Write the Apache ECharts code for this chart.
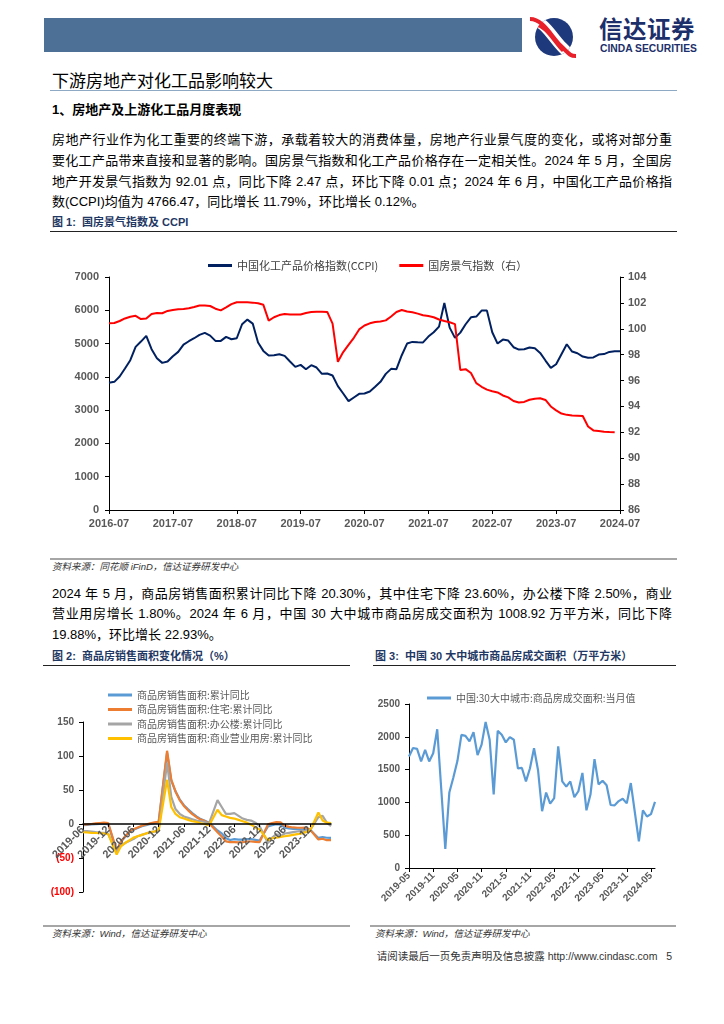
<!DOCTYPE html>
<html><head><meta charset="utf-8">
<script src="https://cdn.jsdelivr.net/npm/echarts@6.0.0/dist/echarts.min.js"></script>
<style>
body{margin:0;background:#fff;}
#page{position:relative;width:724px;height:1024px;overflow:hidden;font-family:'Liberation Sans','Noto Sans CJK SC',sans-serif;color:#000;}
.a{position:absolute;white-space:nowrap;}
.p{position:absolute;left:52px;width:620px;height:21px;line-height:21px;font-size:13px;color:#000;}
.j{text-align:justify;text-align-last:justify;}
.fig{position:absolute;font-size:11px;font-weight:bold;color:#1F3864;white-space:nowrap;line-height:14px;}
.src{position:absolute;font-size:9.5px;font-style:italic;color:#333;white-space:nowrap;line-height:12px;}
.hl{position:absolute;height:0;}
#chart{position:absolute;left:0;top:0;width:724px;height:1024px;}
</style></head>
<body><div id="page">
<div class="a" style="left:44px;top:18px;width:478px;height:34px;background:#4D7097;"></div>
<svg class="a" style="left:528px;top:11px" width="52" height="50" viewBox="0 0 52 50">
 <defs><clipPath id="cc"><circle cx="26" cy="26" r="19"/></clipPath></defs>
 <circle cx="26" cy="26" r="19" fill="#1F3A7C"/>
 <path d="M3,9 C16,9 24,26 34,36 S44,46 48,46" stroke="#fff" stroke-width="11" fill="none" clip-path="url(#cc)"/>
 <path d="M2,8 C15,8 23,25 33,35 S43,45 48,45" stroke="#E8202A" stroke-width="4" fill="none"/>
 <path d="M6,14 C18,14 25,30 35,40" stroke="#E8202A" stroke-width="3" fill="none" clip-path="url(#cc)"/>
</svg>
<div class="a" style="left:599px;top:14px;font-size:23.5px;font-weight:bold;color:#1C2F6B;font-family:'Noto Sans CJK SC';line-height:28px;letter-spacing:0.5px;">信达证券</div>
<div class="a" style="left:600px;top:43px;font-size:10.3px;font-weight:bold;color:#1C2F6B;line-height:11px;">CINDA SECURITIES</div>

<div class="a" style="left:52px;top:69px;font-size:17px;line-height:22px;color:#000;font-family:'Noto Sans CJK SC';">下游房地产对化工品影响较大</div>
<div class="hl" style="left:50px;top:90px;width:627px;border-top:1.5px solid #8DA9C4;"></div>
<div class="a" style="left:52px;top:102px;font-size:13px;font-weight:bold;line-height:16px;">1、房地产及上游化工品月度表现</div>

<div class="p j" style="top:129px;">房地产行业作为化工重要的终端下游，承载着较大的消费体量，房地产行业景气度的变化，或将对部分重</div>
<div class="p j" style="top:150px;">要化工产品带来直接和显著的影响。国房景气指数和化工产品价格存在一定相关性。2024 年 5 月，全国房</div>
<div class="p j" style="top:170.5px;">地产开发景气指数为 92.01 点，同比下降 2.47 点，环比下降 0.01 点；2024 年 6 月，中国化工产品价格指</div>
<div class="p" style="top:191px;">数(CCPI)均值为 4766.47，同比增长 11.79%，环比增长 0.12%。</div>

<div class="fig" style="left:52px;top:215px;">图 1:&nbsp; 国房景气指数及 CCPI</div>
<div class="hl" style="left:50px;top:231px;width:627px;border-top:1.5px solid #222;"></div>
<div class="hl" style="left:50px;top:558px;width:627px;border-top:2px solid #A6A6A6;"></div>
<div class="src" style="left:52px;top:561px;">资料来源：同花顺 iFinD，信达证券研发中心</div>

<div class="p j" style="top:582.5px;">2024 年 5 月，商品房销售面积累计同比下降 20.30%，其中住宅下降 23.60%，办公楼下降 2.50%，商业</div>
<div class="p j" style="top:603px;">营业用房增长 1.80%。2024 年 6 月，中国 30 大中城市商品房成交面积为 1008.92 万平方米，同比下降</div>
<div class="p" style="top:623.5px;">19.88%，环比增长 22.93%。</div>

<div class="fig" style="left:52px;top:649px;">图 2:&nbsp; 商品房销售面积变化情况（%）</div>
<div class="fig" style="left:375px;top:649px;">图 3:&nbsp; 中国 30 大中城市商品房成交面积（万平方米）</div>
<div class="hl" style="left:43px;top:665px;width:307px;border-top:1.5px solid #222;"></div>
<div class="hl" style="left:373px;top:665px;width:303px;border-top:1.5px solid #222;"></div>
<div class="hl" style="left:43px;top:925px;width:307px;border-top:2px solid #A6A6A6;"></div>
<div class="hl" style="left:370px;top:925px;width:306px;border-top:2px solid #A6A6A6;"></div>
<div class="src" style="left:52px;top:928px;">资料来源：Wind，信达证券研发中心</div>
<div class="src" style="left:375px;top:928px;">资料来源：Wind，信达证券研发中心</div>

<div class="a" style="right:52px;top:950px;font-size:10.5px;line-height:12px;color:#333;">请阅读最后一页免责声明及信息披露 http://www.cindasc.com&nbsp;&nbsp; 5</div>

<div id="chart"></div>
</div>
<script>
// ---------- Chart 1: CCPI & 国房景气指数 ----------
function months(y, m, n) { const r = []; for (let k = 0; k < n; k++) { const mm = m + k; const yy = y + Math.floor((mm - 1) / 12); const mo = ((mm - 1) % 12) + 1; r.push(yy + '-' + (mo < 10 ? '0' + mo : mo)); } return r; }
const cat1 = months(2016, 7, 97);
const ccpi = [3820,3850,4010,4250,4500,4900,5060,5230,4830,4560,
 4420,4460,4620,4750,4970,5070,5160,5260,5320,5240,
 5080,5080,5200,5130,5160,5580,5720,5600,5030,4780,
 4640,4650,4680,4630,4460,4300,4360,4230,4350,4280,
 4090,4100,4040,3720,3500,3270,3380,3490,3500,3560,
 3700,3850,4090,4240,4230,4650,5000,5050,5040,5035,
 5210,5340,5510,6220,5480,5170,5330,5580,5790,5810,
 5990,5990,5340,5000,5120,5090,4890,4820,4830,4880,
 4860,4720,4490,4270,4380,4680,4980,4760,4710,4610,
 4575,4585,4670,4685,4750,4770,4766];
const housing = [100.42,100.45,100.6,100.8,100.93,101.0,100.75,100.8,101.14,101.22,
 101.2,101.38,101.45,101.5,101.53,101.58,101.68,101.8,101.8,101.76,
 101.55,101.42,101.65,101.9,102.05,102.05,102.04,102.02,101.97,101.85,
 100.63,100.89,101.06,101.14,101.11,101.11,101.11,101.22,101.29,101.32,
 101.32,101.3,100.4,97.45,98.2,98.75,99.3,99.95,100.25,100.42,
 100.52,100.56,100.65,100.95,101.3,101.45,101.33,101.27,101.17,101.05,
 100.98,100.89,100.72,100.6,100.5,100.36,96.82,96.88,96.58,95.8,
 95.52,95.3,95.18,95.08,94.85,94.7,94.42,94.3,94.35,94.52,
 94.6,94.63,94.5,94.0,93.7,93.45,93.35,93.3,93.28,93.26,
 92.45,92.15,92.1,92.05,92.02,92.01];
const name1a = '中国化工产品价格指数(CCPI)';
const name1b = '国房景气指数（右）';

// ---------- Chart 2: 商品房销售面积累计同比 (2019-06 .. 2024-05) ----------
const cat2 = months(2019, 6, 60);
const salesTotal = [-1.8,-1.3,-0.6,-0.1,0.1,0.2,-0.1,
 null,-39.9,-26.3,-19.3,-12.3,-8.4,-5.8,-3.3,-1.8,0.0,1.3,2.6,
 null,104.9,63.8,48.1,36.3,27.7,21.5,15.9,11.3,7.2,4.8,1.9,
 null,-9.6,-13.8,-20.9,-23.6,-22.2,-23.1,-23.0,-22.2,-22.3,-23.3,-24.3,
 null,-3.6,-1.8,-0.4,-0.9,-5.3,-6.5,-7.1,-7.5,-7.8,-8.0,-8.5,
 null,-20.5,-19.4,-20.2,-20.3];
const salesResid = [-1.0,-0.6,0.0,0.8,1.5,1.9,1.5,
 null,-39.2,-25.9,-18.3,-11.6,-7.6,-5.0,-2.5,-0.7,0.9,2.3,3.2,
 null,107.7,65.3,47.9,35.1,26.5,20.1,14.6,10.0,6.4,4.2,1.1,
 null,-12.2,-18.4,-25.5,-26.6,-26.6,-27.1,-26.8,-25.7,-25.7,-26.2,-26.8,
 null,-0.6,1.4,2.7,2.3,-2.8,-4.3,-5.1,-5.5,-5.5,-5.4,-8.2,
 null,-22.8,-21.7,-23.8,-23.6];
const salesOffice = [-10.4,-10.5,-11.0,-11.8,-12.5,-13.0,-14.7,
 null,-42,-32,-28,-25,-22,-18,-16,-14,-12,-11,-10.4,
 null,90,40,22,15,11,9,7,5,4,3,1.2,
 null,35,25,15,15,16,12,8,6,5,2,-3,
 null,-28,-20,-15,-18,-14,-13,-12,-11,-10,-10,-9,
 null,10,12,2,-3];
const salesComm = [-12,-12.5,-13,-13.2,-13.5,-14,-14.4,
 null,-45,-33,-28,-24,-20,-18,-16,-14,-12,-11,-9,
 null,65,25,15,10,8,6,4,3,1,0,-2,
 null,21,13,11,9,8,6,4,2,-1,-5,-8,
 null,-24,-21,-20,-19,-18,-17,-16,-15,-14,-12,-10,
 null,17,5,2,1.5];
const names2 = ['商品房销售面积:累计同比','商品房销售面积:住宅:累计同比','商品房销售面积:办公楼:累计同比','商品房销售面积:商业营业用房:累计同比'];
const colors2 = ['#5B9BD5','#ED7D31','#A5A5A5','#FFC000'];

// ---------- Chart 3: 30大中城市商品房成交面积 (2019-05 .. 2024-06) ----------
const cat3 = months(2019, 5, 62);
const ticks3 = ['2019-05','2019-11','2020-05','2020-11','2021-5','2021-11','2022-05','2022-11','2023-05','2023-11','2024-05'];
const area30 = [1700,1830,1815,1625,1800,1625,1750,2115,1200,290,
 1150,1380,1630,2030,2015,1930,2070,1720,1880,2225,
 1955,1120,2090,2030,1915,1995,1955,1520,1525,1320,
 1520,1825,1490,865,1150,980,1065,1855,1320,1240,
 1320,1080,1170,1450,880,1120,1660,1275,1330,1260,
 960,955,1020,1055,985,1295,850,405,880,785,
 821,1009];
const name3 = '中国:30大中城市:商品房成交面积:当月值';

const NUM = 'Liberation Sans';
const CJK = "'Noto Sans CJK SC','Liberation Sans',sans-serif";
const plain = v => String(v);
const lbl = (size) => ({ color: '#595959', fontSize: size, fontWeight: 'bold', fontFamily: NUM });
const blackLine = { show: true, lineStyle: { color: '#000', width: 1 } };

const G2_TOP = 722, G2_H = 170, Y2_MIN = -100, Y2_MAX = 150;
const zeroOffset = -(G2_H * (0 - Y2_MIN) / (Y2_MAX - Y2_MIN)); // move category axis up onto the 0 line

const chart = echarts.init(document.getElementById('chart'), null, { renderer: 'canvas' });
chart.setOption({
  backgroundColor: 'transparent',
  animation: false,
  grid: [
    { left: 109, top: 277, width: 511, height: 233 },
    { left: 83, top: G2_TOP, width: 248, height: G2_H },
    { left: 409, top: 704, width: 246, height: 164 }
  ],
  legend: [
    { data: [name1a, name1b], left: 203, top: 255, icon: 'rect', itemWidth: 24, itemHeight: 3, itemGap: 21,
      textStyle: { fontSize: 11, color: '#404040', fontFamily: CJK } },
    { data: names2, orient: 'vertical', left: 103, top: 684, icon: 'rect', itemWidth: 24, itemHeight: 3, itemGap: 2.5,
      textStyle: { fontSize: 10, color: '#595959', fontFamily: CJK, lineHeight: 12 } },
    { data: [name3], left: 422, top: 688, icon: 'rect', itemWidth: 24, itemHeight: 3,
      textStyle: { fontSize: 10, color: '#595959', fontFamily: CJK } }
  ],
  xAxis: [
    { gridIndex: 0, type: 'category', data: cat1, boundaryGap: false, axisLine: blackLine,
      axisTick: { show: true, interval: 11, length: 4, lineStyle: { color: '#000' } },
      axisLabel: Object.assign(lbl(11), { interval: 11, margin: 8 }), splitLine: { show: false } },
    { gridIndex: 1, type: 'category', data: cat2, boundaryGap: false, position: 'bottom', offset: zeroOffset, z: 10,
      axisLine: { show: true, onZero: false, lineStyle: { color: '#000', width: 1.5 } },
      axisTick: { show: true, interval: 5, length: 3, lineStyle: { color: '#000' } },
      axisLabel: Object.assign(lbl(11), { interval: 5, rotate: 45, margin: 4 }), splitLine: { show: false } },
    { gridIndex: 2, type: 'category', data: cat3, boundaryGap: false, axisLine: blackLine,
      axisTick: { show: true, interval: 5, length: 4, lineStyle: { color: '#000' } },
      axisLabel: Object.assign(lbl(10), { interval: 5, rotate: 45, margin: 6,
        formatter: (v, i) => (i % 6 === 0 ? ticks3[i / 6] : '') }), splitLine: { show: false } }
  ],
  yAxis: [
    { gridIndex: 0, type: 'value', min: 0, max: 7000, interval: 1000, axisLine: blackLine,
      axisTick: { show: true, length: 4, lineStyle: { color: '#000' } },
      axisLabel: Object.assign(lbl(11), { margin: 10, formatter: plain }), splitLine: { show: false } },
    { gridIndex: 0, type: 'value', position: 'right', min: 86, max: 104, interval: 2, axisLine: blackLine,
      axisTick: { show: true, length: 4, lineStyle: { color: '#000' } },
      axisLabel: Object.assign(lbl(11), { margin: 8, formatter: plain }), splitLine: { show: false } },
    { gridIndex: 1, type: 'value', min: Y2_MIN, max: Y2_MAX, interval: 50, axisLine: blackLine,
      axisTick: { show: true, length: 4, lineStyle: { color: '#000' } },
      axisLabel: Object.assign(lbl(10), { margin: 9,
        formatter: v => (Number(v) < 0 ? '(' + (-Number(v)) + ')' : String(v)),
        color: v => (Number(v) < 0 ? '#FF0000' : '#595959') }), splitLine: { show: false } },
    { gridIndex: 2, type: 'value', min: 0, max: 2500, interval: 500, axisLine: blackLine,
      axisTick: { show: true, length: 4, lineStyle: { color: '#000' } },
      axisLabel: Object.assign(lbl(10), { margin: 9, formatter: plain }), splitLine: { show: false } }
  ],
  series: [
    { name: name1a, type: 'line', xAxisIndex: 0, yAxisIndex: 0, data: ccpi, symbol: 'none',
      lineStyle: { color: '#002060', width: 2 }, itemStyle: { color: '#002060' } },
    { name: name1b, type: 'line', xAxisIndex: 0, yAxisIndex: 1, data: housing, symbol: 'none',
      lineStyle: { color: '#FF0000', width: 2 }, itemStyle: { color: '#FF0000' } },
    ...[salesTotal, salesResid, salesOffice, salesComm].map((d, k) => ({
      name: names2[k], type: 'line', xAxisIndex: 1, yAxisIndex: 2, data: d, symbol: 'none', connectNulls: true,
      lineStyle: { color: colors2[k], width: 2.2 }, itemStyle: { color: colors2[k] }, z: k === 3 ? 5 : 2 + k
    })),
    { name: name3, type: 'line', xAxisIndex: 2, yAxisIndex: 3, data: area30, symbol: 'none',
      lineStyle: { color: '#5B9BD5', width: 2.2 }, itemStyle: { color: '#5B9BD5' } }
  ]
});
</script>
</body></html>
